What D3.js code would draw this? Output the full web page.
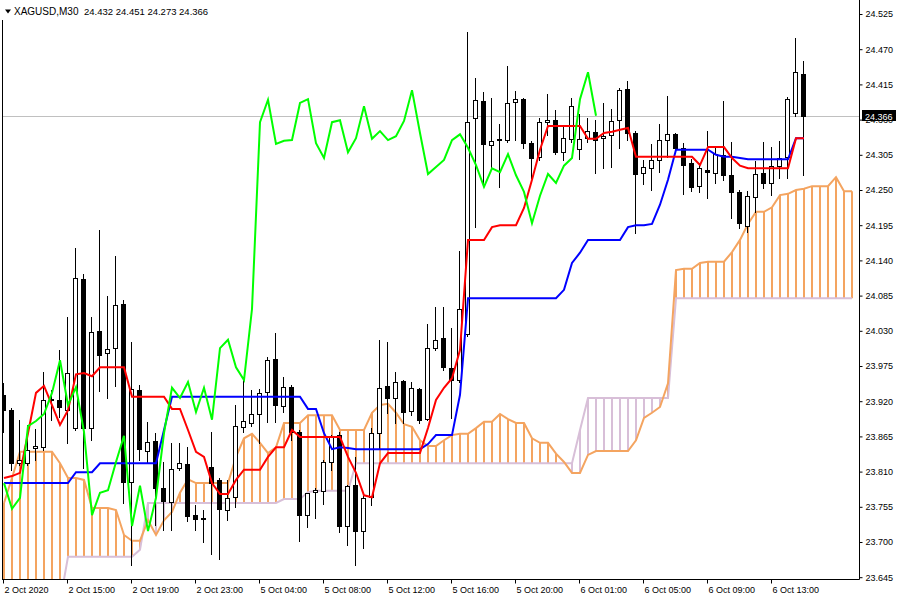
<!DOCTYPE html>
<html><head><meta charset="utf-8">
<script src="https://cdn.jsdelivr.net/npm/d3@7"></script>
<style>
html,body{margin:0;padding:0;background:#fff;}
svg{display:block;}
text{font-family:"Liberation Sans",Arial,sans-serif;fill:#000;}
</style></head><body>
<svg id="chart" width="900" height="600"></svg>
<script>
const symbolName = "XAGUSD,M30";
const lastBar = [24.432, 24.451, 24.273, 24.366];

const open = [23.930,23.906,23.823,23.823,23.847,23.848,23.922,23.922,23.906,23.878,
 24.111,23.878,24.030,23.995,24.003,24.072,23.794,23.938,23.842,23.858,
 23.784,23.763,23.816,23.822,23.742,23.736,23.817,23.797,23.750,23.770,
 23.880,23.886,23.900,23.934,23.986,23.912,23.942,23.872,23.742,23.778,
 23.780,23.825,23.867,23.725,23.789,23.717,23.770,23.870,23.944,23.925,
 23.952,23.905,23.939,23.892,24.003,24.019,23.972,23.953,24.025,24.362,
 24.389,24.320,24.330,24.328,24.388,24.392,24.323,24.302,24.356,24.359,
 24.309,24.330,24.314,24.331,24.341,24.331,24.336,24.359,24.408,24.339,
 24.277,24.284,24.297,24.328,24.337,24.316,24.292,24.256,24.281,24.277,
 24.305,24.273,24.247,24.194,24.239,24.277,24.261,24.288,24.302,24.370,
 24.432];
const high = [23.948,23.909,23.891,23.883,23.877,23.966,23.938,24.000,24.052,24.159,
 24.119,24.052,24.188,24.084,24.147,24.078,24.013,23.945,23.888,23.870,
 23.825,23.855,23.855,23.848,23.758,23.750,23.872,23.800,23.797,23.914,
 23.953,23.938,23.939,23.989,24.027,23.958,23.945,23.875,23.777,23.784,
 23.828,23.867,23.872,23.789,23.833,23.777,23.878,24.016,24.013,23.966,
 23.953,23.950,23.941,24.041,24.067,24.067,24.034,24.155,24.497,24.425,
 24.403,24.394,24.353,24.444,24.405,24.394,24.327,24.362,24.400,24.375,
 24.348,24.394,24.369,24.362,24.359,24.386,24.377,24.409,24.420,24.342,
 24.297,24.322,24.353,24.397,24.339,24.323,24.298,24.292,24.342,24.316,
 24.389,24.325,24.250,24.248,24.295,24.325,24.317,24.327,24.395,24.488,
 24.451];
const low = [23.872,23.813,23.820,23.820,23.828,23.844,23.891,23.895,23.855,23.875,
 23.816,23.859,23.936,23.925,23.944,23.761,23.664,23.828,23.825,23.727,
 23.719,23.719,23.813,23.733,23.719,23.700,23.681,23.673,23.734,23.755,
 23.872,23.881,23.855,23.888,23.888,23.903,23.859,23.702,23.723,23.738,
 23.759,23.813,23.716,23.695,23.664,23.691,23.758,23.847,23.902,23.886,
 23.886,23.898,23.886,23.891,24.000,23.969,23.894,23.950,24.022,24.192,
 24.256,24.286,24.255,24.325,24.328,24.316,24.269,24.297,24.336,24.306,
 24.297,24.325,24.298,24.325,24.277,24.284,24.286,24.316,24.328,24.183,
 24.259,24.250,24.278,24.302,24.309,24.244,24.248,24.247,24.238,24.261,
 24.266,24.206,24.191,24.184,24.216,24.253,24.242,24.269,24.269,24.366,
 24.273];
const close = [23.906,23.823,23.828,23.844,23.850,23.922,23.923,23.911,23.964,24.113,
 23.878,24.028,23.992,24.002,24.070,23.794,23.939,23.845,23.856,23.784,
 23.764,23.814,23.823,23.741,23.736,23.738,23.792,23.752,23.769,23.881,
 23.889,23.900,23.933,23.984,23.914,23.942,23.872,23.742,23.777,23.781,
 23.825,23.866,23.725,23.788,23.717,23.769,23.870,23.941,23.925,23.950,
 23.903,23.941,23.891,24.003,24.016,23.973,23.953,24.064,24.356,24.391,
 24.322,24.327,24.328,24.386,24.392,24.323,24.300,24.356,24.359,24.309,
 24.331,24.381,24.330,24.342,24.328,24.334,24.358,24.406,24.339,24.275,
 24.286,24.297,24.328,24.337,24.316,24.289,24.255,24.284,24.278,24.306,
 24.273,24.247,24.198,24.241,24.275,24.261,24.288,24.300,24.392,24.434,
 24.366];

const tenkan = [23.800,23.803,23.808,23.870,23.933,23.944,23.914,23.883,23.906,23.962,
 23.964,23.959,23.973,23.973,23.973,23.973,23.927,23.927,23.927,23.927,
 23.927,23.908,23.908,23.875,23.841,23.833,23.792,23.775,23.775,23.797,
 23.813,23.813,23.813,23.833,23.848,23.848,23.875,23.864,23.864,23.864,
 23.864,23.864,23.864,23.833,23.808,23.773,23.770,23.823,23.839,23.839,
 23.839,23.839,23.839,23.878,23.922,23.941,23.956,24.000,24.172,24.172,
 24.172,24.192,24.195,24.195,24.195,24.222,24.266,24.313,24.350,24.350,
 24.350,24.350,24.350,24.330,24.330,24.339,24.341,24.344,24.347,24.302,
 24.302,24.302,24.302,24.302,24.302,24.302,24.302,24.289,24.317,24.317,
 24.317,24.300,24.288,24.284,24.284,24.284,24.284,24.284,24.284,24.331,
 24.331];
const kijun = [23.792,23.792,23.792,23.792,23.792,23.792,23.792,23.792,23.792,23.809,
 23.809,23.809,23.823,23.823,23.823,23.823,23.823,23.823,23.823,23.823,
 23.875,23.927,23.927,23.927,23.927,23.927,23.927,23.927,23.927,23.927,
 23.927,23.927,23.927,23.927,23.927,23.927,23.927,23.927,23.908,23.908,
 23.870,23.845,23.848,23.847,23.845,23.845,23.845,23.845,23.845,23.845,
 23.845,23.845,23.845,23.853,23.867,23.867,23.867,23.930,24.081,24.081,
 24.081,24.081,24.081,24.081,24.081,24.081,24.081,24.081,24.081,24.081,
 24.094,24.136,24.152,24.172,24.172,24.172,24.172,24.172,24.192,24.195,
 24.195,24.197,24.227,24.266,24.313,24.313,24.313,24.313,24.313,24.305,
 24.302,24.302,24.300,24.298,24.298,24.298,24.298,24.298,24.298,24.331,
 24.331];
const senkouA = [23.761,23.800,23.841,23.841,23.841,23.841,23.841,23.823,23.800,23.800,
 23.797,23.753,23.753,23.753,23.750,23.711,23.702,23.702,23.734,23.711,
 23.734,23.747,23.777,23.798,23.792,23.792,23.792,23.792,23.792,23.833,
 23.862,23.869,23.855,23.839,23.848,23.886,23.886,23.886,23.898,23.898,
 23.898,23.898,23.875,23.875,23.875,23.875,23.902,23.914,23.916,23.902,
 23.884,23.880,23.859,23.850,23.850,23.859,23.867,23.869,23.869,23.878,
 23.888,23.888,23.900,23.892,23.886,23.886,23.862,23.855,23.855,23.838,
 23.825,23.808,23.808,23.836,23.842,23.842,23.842,23.842,23.842,23.859,
 23.894,23.902,23.911,23.948,24.125,24.127,24.127,24.136,24.138,24.138,
 24.138,24.153,24.172,24.197,24.216,24.216,24.223,24.242,24.244,24.250,
 24.252,24.256,24.256,24.256,24.270,24.248,24.248];
const senkouB = [23.606,23.606,23.606,23.606,23.606,23.606,23.606,23.606,23.677,23.677,
 23.677,23.677,23.677,23.677,23.677,23.677,23.677,23.688,23.761,23.761,
 23.761,23.761,23.761,23.761,23.761,23.761,23.761,23.761,23.761,23.761,
 23.761,23.761,23.761,23.761,23.761,23.767,23.767,23.767,23.778,23.780,
 23.780,23.780,23.780,23.780,23.823,23.823,23.823,23.823,23.823,23.823,
 23.823,23.823,23.823,23.823,23.823,23.823,23.823,23.823,23.823,23.823,
 23.823,23.823,23.823,23.823,23.823,23.823,23.823,23.823,23.823,23.823,
 23.823,23.823,23.875,23.925,23.925,23.925,23.925,23.925,23.925,23.925,
 23.925,23.925,23.925,23.925,24.081,24.081,24.081,24.081,24.081,24.081,
 24.081,24.081,24.081,24.081,24.081,24.081,24.081,24.081,24.081,24.081,
 24.081,24.081,24.081,24.081,24.081,24.081,24.081];
const chikouShift = 26;

const xTickIndex = [0,8,16,24,32,40,48,56,64,72,80,88,96];
const xTickLabels = ["2 Oct 2020","2 Oct 15:00","2 Oct 19:00","2 Oct 23:00","5 Oct 04:00",
 "5 Oct 08:00","5 Oct 12:00","5 Oct 16:00","5 Oct 20:00","6 Oct 01:00","6 Oct 05:00",
 "6 Oct 09:00","6 Oct 13:00"];
const yTickValues = [24.525,24.470,24.415,24.360,24.305,24.250,24.195,24.140,24.085,
 24.030,23.975,23.920,23.865,23.810,23.755,23.700,23.645];

const svg = d3.select("#chart");
const plotL = 3, plotR = 859, plotB = 579;
const x = d3.scaleLinear().domain([0, 107]).range([3.5, 859.5]);
const y = d3.scaleLinear().domain([23.645, 24.525]).range([577.2, 14]);

svg.append("defs").append("clipPath").attr("id","clip")
  .append("rect").attr("x",plotL).attr("y",0).attr("width",plotR-plotL).attr("height",plotB);

const plot = svg.append("g").attr("clip-path","url(#clip)");

// bid line
plot.append("line").attr("x1",plotL).attr("x2",plotR)
  .attr("y1",Math.round(y(close[close.length-1]))+0.5).attr("y2",Math.round(y(close[close.length-1]))+0.5)
  .attr("stroke","#c0c0c0").attr("stroke-width",1);

// cloud hatches
const SANDY = "#F4A460", THISTLE = "#D8BFD8";
plot.append("g").selectAll("line").data(d3.range(senkouA.length)).join("line")
  .attr("x1", i => x(i)+0.5).attr("x2", i => x(i)+0.5)
  .attr("y1", i => y(senkouA[i])).attr("y2", i => y(senkouB[i]))
  .attr("stroke", i => senkouA[i] >= senkouB[i] ? SANDY : THISTLE)
  .attr("stroke-width", 2);

const lineGen = d3.line().x(d => x(d.i)+0.5).y(d => y(d.v));
const toPts = arr => arr.map((v,i) => ({i, v}));

plot.append("path").datum(toPts(senkouB)).attr("d", lineGen)
  .attr("fill","none").attr("stroke",THISTLE).attr("stroke-width",2);
plot.append("path").datum(toPts(senkouA)).attr("d", lineGen)
  .attr("fill","none").attr("stroke",SANDY).attr("stroke-width",2);

// candles
const cg = plot.append("g");
const idx = d3.range(open.length);
cg.selectAll("line.wick").data(idx).join("line").attr("class","wick")
  .attr("x1", i => x(i)).attr("x2", i => x(i))
  .attr("y1", i => Math.round(y(high[i]))).attr("y2", i => Math.round(y(low[i]))+1)
  .attr("stroke","#000").attr("stroke-width",1);
cg.selectAll("rect.body").data(idx).join("rect").attr("class","body")
  .attr("x", i => x(i)-2)
  .attr("y", i => Math.round(y(Math.max(open[i],close[i])))+0.5)
  .attr("width", 4)
  .attr("height", i => Math.max(0, Math.round(y(Math.min(open[i],close[i]))) - Math.round(y(Math.max(open[i],close[i])))))
  .attr("fill", i => close[i] < open[i] ? "#000" : "#fff")
  .attr("stroke","#000").attr("stroke-width",1);

// indicator lines
plot.append("path").datum(toPts(kijun)).attr("d", lineGen)
  .attr("fill","none").attr("stroke","#0000ff").attr("stroke-width",2);
plot.append("path").datum(toPts(tenkan)).attr("d", lineGen)
  .attr("fill","none").attr("stroke","#ff0000").attr("stroke-width",2);
const chikouPts = d3.range(chikouShift, close.length).map(j => ({i: j - chikouShift, v: close[j]}));
plot.append("path").datum(chikouPts).attr("d", lineGen)
  .attr("fill","none").attr("stroke","#00ff00").attr("stroke-width",2);

// frame lines
svg.append("line").attr("x1",2.5).attr("x2",2.5).attr("y1",20).attr("y2",plotB+0.5).attr("stroke","#000");
svg.append("line").attr("x1",2).attr("x2",plotR+0.5).attr("y1",plotB+0.5).attr("y2",plotB+0.5).attr("stroke","#000");
svg.append("line").attr("x1",plotR+0.5).attr("x2",plotR+0.5).attr("y1",0).attr("y2",plotB+0.5).attr("stroke","#000");

// y axis
const yAxis = d3.axisRight(y).tickValues(yTickValues).tickFormat(d3.format(".3f"))
  .tickSize(3).tickPadding(3).tickSizeOuter(0);
const yg = svg.append("g").attr("transform",`translate(${plotR+0.5},0)`).call(yAxis);
yg.select(".domain").remove();
yg.selectAll("text").attr("font-size","9px").attr("font-family",'"Liberation Sans",Arial,sans-serif').attr("fill","#000");
yg.selectAll("line").attr("stroke","#000");

// x axis
const xAxis = d3.axisBottom(x).tickValues(xTickIndex).tickFormat((d,i) => xTickLabels[i])
  .tickSize(4).tickPadding(3).tickSizeOuter(0);
const xg = svg.append("g").attr("transform",`translate(-0.5,${plotB+0.5})`).call(xAxis);
xg.select(".domain").remove();
xg.selectAll("text").attr("text-anchor","start").attr("dx","1")
  .attr("font-size","9px").attr("font-family",'"Liberation Sans",Arial,sans-serif').attr("fill","#000");
xg.selectAll("line").attr("stroke","#000");

// current price box
const py = y(lastBar[3]);
svg.append("rect").attr("x",862).attr("y",Math.round(py)-6).attr("width",34).attr("height",11).attr("fill","#000");
svg.append("text").attr("x",865).attr("y",Math.round(py)+3.5).attr("font-size","9px")
  .style("fill","#fff").text(d3.format(".3f")(lastBar[3]));

// title
svg.append("path").attr("d","M5,9.5 L11,9.5 L8,13.5 Z").attr("fill","#000");
svg.append("text").attr("x",14).attr("y",15).attr("font-size","10px").text(symbolName);
svg.append("text").attr("x",84).attr("y",15).attr("font-size","9.5px")
  .text(lastBar.map(d3.format(".3f")).join(" "));
</script>
</body></html>
